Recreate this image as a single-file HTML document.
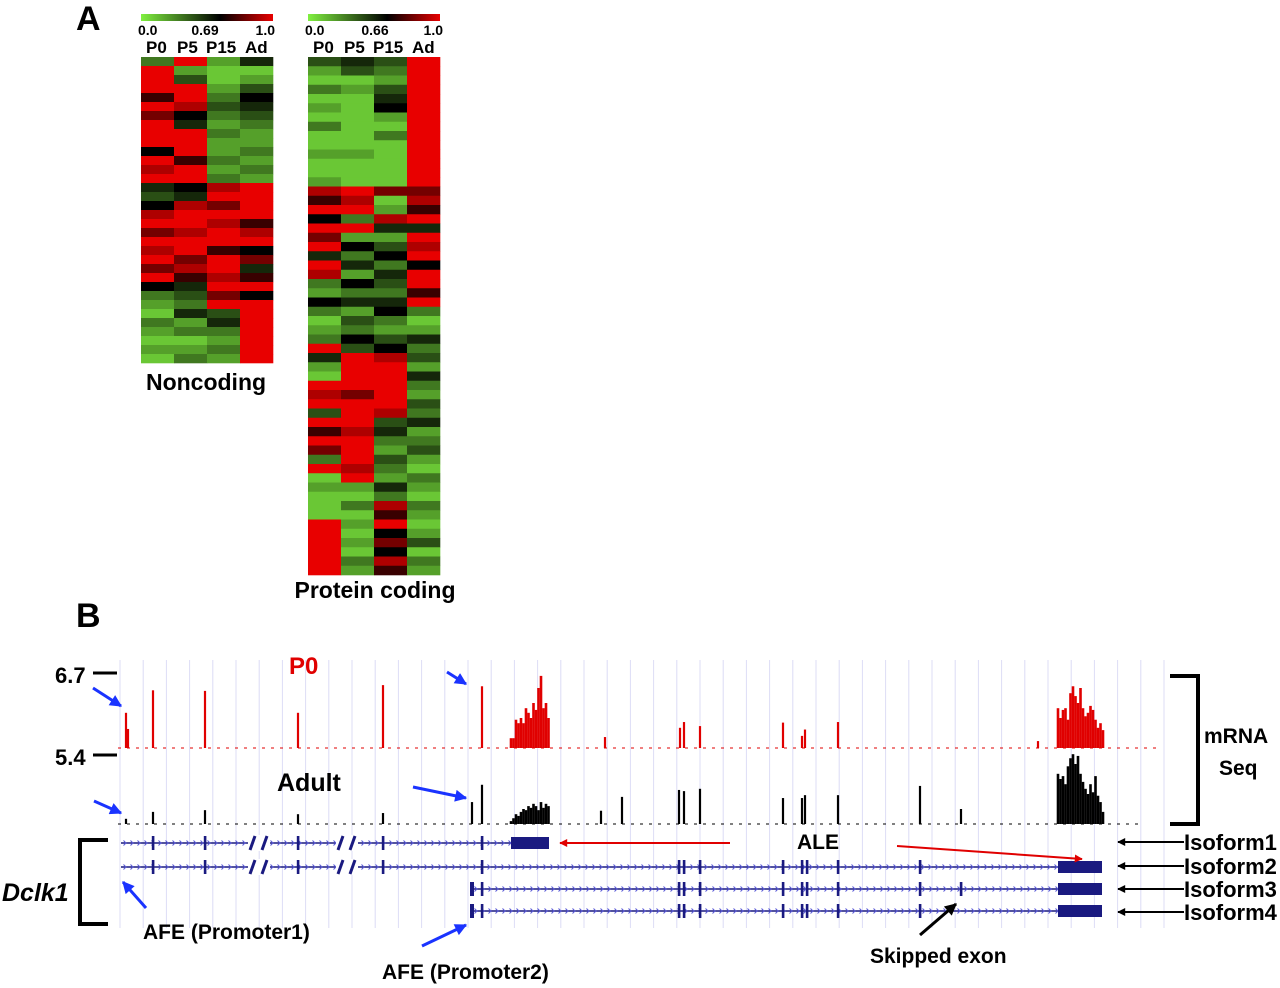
<!DOCTYPE html>
<html><head><meta charset="utf-8"><style>
html,body{margin:0;padding:0;background:#fff;}
svg{display:block;font-family:"Liberation Sans",Arial,sans-serif;font-weight:bold;}
</style></head><body>
<svg id="fig" width="1280" height="988" viewBox="0 0 1280 988" xmlns="http://www.w3.org/2000/svg">
<defs>
<linearGradient id="cg" x1="0" x2="1" y1="0" y2="0"><stop offset="0" stop-color="#80f040"/><stop offset="0.6" stop-color="#000"/><stop offset="1" stop-color="#e80000"/></linearGradient>
<marker id="ab" viewBox="0 0 10 10" refX="9" refY="5" markerWidth="5" markerHeight="4" orient="auto"><path d="M0,0L10,5L0,10z" fill="#1a33ff"/></marker>
<marker id="ar" viewBox="0 0 10 10" refX="9" refY="5" markerWidth="6" markerHeight="4" orient="auto"><path d="M0,0L10,5L0,10z" fill="#e00000"/></marker>
<marker id="ak" viewBox="0 0 10 10" refX="9" refY="5" markerWidth="6" markerHeight="4" orient="auto"><path d="M0,0L10,5L0,10z" fill="#000"/></marker>
</defs>
<text x="76" y="30" font-size="34">A</text>
<text x="76" y="627" font-size="34">B</text>
<g>
<rect x="141" y="14" width="132" height="7" fill="url(#cg)"/>
<text x="138" y="35" font-size="14">0.0</text><text x="205" y="35" font-size="14" text-anchor="middle">0.69</text><text x="275" y="35" font-size="14" text-anchor="end">1.0</text>
<text x="146" y="53" font-size="17">P0</text><text x="177" y="53" font-size="17">P5</text><text x="206" y="53" font-size="17">P15</text><text x="245" y="53" font-size="17">Ad</text>
</g>
<g>
<rect x="308" y="14" width="132" height="7" fill="url(#cg)"/>
<text x="305" y="35" font-size="14">0.0</text><text x="375" y="35" font-size="14" text-anchor="middle">0.66</text><text x="443" y="35" font-size="14" text-anchor="end">1.0</text>
<text x="313" y="53" font-size="17">P0</text><text x="344" y="53" font-size="17">P5</text><text x="373" y="53" font-size="17">P15</text><text x="412" y="53" font-size="17">Ad</text>
</g>
<g id="hm1"></g>
<g id="hm2"></g>
<text x="206" y="390" font-size="23" text-anchor="middle">Noncoding</text>
<text x="375" y="598" font-size="23" text-anchor="middle">Protein coding</text>

<g id="grid"></g>
<g>
<text x="55" y="683" font-size="22">6.7</text><line x1="93" y1="673" x2="117" y2="673" stroke="#000" stroke-width="3"/>
<text x="55" y="765" font-size="22">5.4</text><line x1="93" y1="755" x2="117" y2="755" stroke="#000" stroke-width="3"/>
</g>
<text x="289" y="674" font-size="24" fill="#e00000">P0</text>
<text x="277" y="791" font-size="25">Adult</text>
<g id="p0track"></g>
<g id="adtrack"></g>
<g id="genes"></g>
<path d="M1170,676H1198V824H1170" fill="none" stroke="#000" stroke-width="4"/>
<text x="1204" y="743" font-size="21">mRNA</text>
<text x="1219" y="775" font-size="21">Seq</text>
<path d="M108,840H80V924H108" fill="none" stroke="#000" stroke-width="4"/>
<text x="2" y="901" font-size="25" font-style="italic">Dclk1</text>
<text x="797" y="849" font-size="21">ALE</text>
<line x1="730" y1="843" x2="560" y2="843" stroke="#e00000" stroke-width="2" marker-end="url(#ar)"/>
<line x1="897" y1="846" x2="1082" y2="859" stroke="#e00000" stroke-width="2" marker-end="url(#ar)"/>
<g font-size="22">
<text x="1184" y="850">Isoform1</text><text x="1184" y="874">Isoform2</text><text x="1184" y="897">Isoform3</text><text x="1184" y="920">Isoform4</text>
<line x1="1184" y1="842" x2="1118" y2="842" stroke="#000" stroke-width="2" marker-end="url(#ak)"/>
<line x1="1184" y1="866" x2="1118" y2="866" stroke="#000" stroke-width="2" marker-end="url(#ak)"/>
<line x1="1184" y1="889" x2="1118" y2="889" stroke="#000" stroke-width="2" marker-end="url(#ak)"/>
<line x1="1184" y1="912" x2="1118" y2="912" stroke="#000" stroke-width="2" marker-end="url(#ak)"/>
</g>
<text x="143" y="939" font-size="21">AFE (Promoter1)</text>
<text x="382" y="979" font-size="21">AFE (Promoter2)</text>
<text x="870" y="963" font-size="21">Skipped exon</text>
<line x1="920" y1="935" x2="956" y2="904" stroke="#000" stroke-width="3" marker-end="url(#ak)"/>
<g stroke="#1a33ff" stroke-width="3">
<line x1="93" y1="688" x2="121" y2="706" marker-end="url(#ab)"/>
<line x1="94" y1="801" x2="121" y2="813" marker-end="url(#ab)"/>
<line x1="447" y1="672" x2="466" y2="684" marker-end="url(#ab)"/>
<line x1="413" y1="787" x2="466" y2="798" marker-end="url(#ab)"/>
<line x1="146" y1="908" x2="123" y2="882" marker-end="url(#ab)"/>
<line x1="422" y1="946" x2="466" y2="925" marker-end="url(#ab)"/>
</g>
</svg>
<script>
// ---- Heatmap data (normalized expression 0..1) ----
const stages = ["P0","P5","P15","Ad"];
const hmNoncodingP0 = [0.3,1,1,1,0.7,1,0.8,1,1,1,0.6,1,0.9,1,0.5,0.4,0.6,0.9,1,0.8,1,0.9,1,0.8,1,0.6,0.3,0.2,0.1,0.3,0.2,0.1,0.2,0.1];
const hmNoncodingP5 = [1,0.2,0.4,1,1,0.9,0.6,0.5,1,1,1,0.7,1,1,0.6,0.5,0.9,1,1,0.9,1,1,0.8,0.9,0.7,0.5,0.4,0.3,0.5,0.2,0.3,0.1,0.2,0.3];
const hmNoncodingP15 = [0.2,0.1,0.1,0.2,0.3,0.4,0.3,0.2,0.3,0.2,0.2,0.3,0.2,0.3,0.9,1,0.8,1,0.9,1,1,0.7,1,1,0.9,1,0.8,1,0.4,0.5,0.3,0.2,0.3,0.2];
const hmNoncodingAd = [0.5,0.1,0.2,0.4,0.6,0.5,0.4,0.3,0.2,0.2,0.3,0.2,0.3,0.2,1,1,1,1,0.7,0.9,1,0.6,0.8,0.5,0.7,1,0.6,1,1,1,1,1,1,1];
const hmCodingP0 = [0.4,0.2,0.1,0.3,0.1,0.2,0.1,0.3,0.1,0.1,0.2,0.1,0.1,0.2,0.9,0.7,1,0.6,1,0.8,1,0.5,1,0.9,0.3,0.2,0.6,0.3,0.1,0.2,0.3,1,0.5,0.2,0.1,1,0.9,1,0.4,1,0.7,1,0.8,0.3,1,0.1,0.2,0.1,0.1,0.1,1,1,1,1,1,1];
const hmCodingP5 = [0.5,0.4,0.1,0.2,0.1,0.1,0.1,0.1,0.1,0.1,0.2,0.1,0.1,0.1,1,0.9,1,0.3,1,0.2,0.6,0.3,0.5,0.2,0.6,0.3,0.5,0.2,0.4,0.3,0.6,0.4,1,1,1,1,0.8,1,1,1,0.9,1,1,1,0.9,1,0.2,0.1,0.3,0.1,0.2,0.1,0.2,0.1,0.3,0.2];
const hmCodingP15 = [0.4,0.3,0.2,0.4,0.5,0.6,0.2,0.1,0.3,0.1,0.1,0.1,0.1,0.1,0.8,0.1,0.2,0.9,0.5,0.2,0.4,0.6,0.3,0.5,0.4,0.3,0.5,0.6,0.3,0.2,0.4,0.6,0.9,1,1,1,1,1,0.9,0.4,0.5,0.3,0.2,0.4,0.3,0.2,0.5,0.3,0.9,0.7,1,0.6,0.8,0.6,0.9,0.7];
const hmCodingAd = [1,1,1,1,1,1,1,1,1,1,1,1,1,1,0.8,0.9,0.7,1,0.5,1,0.9,1,0.6,1,1,0.7,1,0.3,0.1,0.2,0.5,0.3,0.4,0.2,0.5,0.3,0.2,0.4,0.3,0.5,0.2,0.3,0.4,0.2,0.1,0.3,0.2,0.1,0.3,0.2,0.1,0.2,0.4,0.1,0.3,0.2];

// ---- Track data (genomic position in kb; signal in log units) ----
const p0Pos = [8,10,35,87,180,265,364,487,562,566,582,665,684,687,720,920];
const p0Val = [6.01,5.73,6.40,6.39,6.01,6.49,6.47,5.59,5.75,5.85,5.78,5.84,5.61,5.72,5.85,5.52];
const p0ClusterAPos = [393,395.5,398,400.5,403,405.5,408,410.5,413,415.5,418,420.5,423,425.5,428,430.5];
const p0ClusterAVal = [5.57,5.57,5.89,5.83,5.92,5.83,6.09,6.01,5.92,6.18,6.06,6.44,6.65,6.09,6.18,5.92];
const p0ClusterBPos = [940,942.5,945,947.5,950,952.5,955,957.5,960,962.5,965,967.5,970,972.5,975,977.5,980,982.5,985];
const p0ClusterBVal = [6.09,5.92,6.06,6.09,5.89,6.35,6.47,6.30,6.18,6.44,6.09,5.95,6.01,6.13,6.06,5.89,5.75,5.83,5.71];
const adPos = [8,35,87,180,265,354,364,483,504,561,566,582,665,684,687,720,802,843];
const adVal = [5.49,5.61,5.64,5.57,5.59,5.78,6.08,5.63,5.87,5.99,5.97,6.01,5.85,5.85,5.90,5.90,6.06,5.66];
const adClusterAPos = [393,395.5,398,400.5,403,405.5,408,410.5,413,415.5,418,420.5,423,425.5,428,430.5];
const adClusterAVal = [5.45,5.50,5.57,5.54,5.61,5.66,5.64,5.71,5.68,5.75,5.71,5.64,5.78,5.68,5.75,5.71];
const adClusterBPos = p0ClusterBPos;
const adClusterBVal = [6.27,6.18,6.23,6.09,6.40,6.54,6.61,6.44,6.58,6.27,6.13,6.01,5.92,6.09,5.95,6.23,5.89,5.78,5.61];

// ---- Gene model (kb) ----
const iso1Range = [3,431], iso1Exons = [35,87,180,265,364], iso1Utr = [393,431];
const iso2Range = [3,984], iso2Exons = [35,87,180,265,364,561,566,582,665,684,689,720,802], iso2Utr = [940,984];
const iso3Range = [354,984], iso3Exons = [354,364,561,566,582,665,684,689,720,802,843], iso3Utr = [940,984];
const iso4Range = [354,984], iso4Exons = [354,364,561,566,582,665,684,689,720,802], iso4Utr = [940,984];
const breakPos = [140,228];

const NS="http://www.w3.org/2000/svg";
function mk(tag,attrs,parent){const e=document.createElementNS(NS,tag);for(const k in attrs)e.setAttribute(k,attrs[k]);parent.appendChild(e);return e;}
function color(v){
  const mid=0.6;let r,g,b;
  if(v<mid){const t=v/mid;r=128*(1-t);g=240*(1-t);b=64*(1-t);}else{const t=(v-mid)/(1-mid);r=232*t;g=0;b=0;}
  return `rgb(${r|0},${g|0},${b|0})`;
}
function drawHeatmap(gid,cols,x0,y0,w,h){
  const g=document.getElementById(gid);const cw=w/cols.length;
  cols.forEach((col,ci)=>{const rh=h/col.length;col.forEach((v,ri)=>{
    const r=mk('rect',{x:x0+ci*cw,y:y0+ri*rh,width:cw+0.3,height:rh+0.3,fill:color(v)},g);
    
    
  });});
}
drawHeatmap('hm1',[hmNoncodingP0,hmNoncodingP5,hmNoncodingP15,hmNoncodingAd],141,57,132,306);
drawHeatmap('hm2',[hmCodingP0,hmCodingP5,hmCodingP15,hmCodingAd],308,57,132,518);

const xS=kb=>118+kb;
const yS=(v,base)=>base-(v-5.4)/1.3*75;
const gg=document.getElementById('grid');
for(let x=120;x<=1165;x+=23.2){const l=mk('line',{x1:x,y1:660,x2:x,y2:928,stroke:'#dcdcf6','stroke-width':1},gg);
 
 }
function bars(gid,pos,val,base,col,w){
  const g=document.getElementById(gid);
  pos.forEach((p,i)=>{const y=yS(val[i],base);const r=mk('rect',{x:xS(p)-w/2,y:y,width:w,height:base-y,fill:col},g);
    
    });
}
mk('line',{x1:118,y1:748,x2:1160,y2:748,stroke:'#e00000','stroke-width':1,'stroke-dasharray':'3 6'},document.getElementById('p0track'));
mk('line',{x1:118,y1:824,x2:1140,y2:824,stroke:'#000','stroke-width':1,'stroke-dasharray':'3 6'},document.getElementById('adtrack'));
bars('p0track',p0Pos,p0Val,748,'#e00000',2.2);
bars('p0track',p0ClusterAPos,p0ClusterAVal,748,'#e00000',2.6);
bars('p0track',p0ClusterBPos,p0ClusterBVal,748,'#e00000',2.6);
bars('adtrack',adPos,adVal,824,'#000',2.2);
bars('adtrack',adClusterAPos,adClusterAVal,824,'#000',2.6);
bars('adtrack',adClusterBPos,adClusterBVal,824,'#000',2.6);

const ge=document.getElementById('genes');const navy='#1a1a80';
function isoform(name,y,range,exons,utr,withBreaks,thickStart){
  const g=mk('g',{},ge);
  
  
  mk('line',{x1:xS(range[0]),y1:y,x2:xS(range[1]),y2:y,stroke:navy,'stroke-width':1.5},g);
  for(let k=range[0]+4;k<range[1]-4;k+=7){mk('path',{d:`M${xS(k)-1.5},${y-2.5}L${xS(k)+1},${y}L${xS(k)-1.5},${y+2.5}`,stroke:'#5a5ad8',fill:'none','stroke-width':1},g);}
  exons.forEach(e=>mk('rect',{x:xS(e)-1.2,y:y-7,width:2.6,height:14,fill:navy},g));
  if(thickStart) mk('rect',{x:xS(range[0])-2,y:y-7,width:4,height:14,fill:navy},g);
  mk('rect',{x:xS(utr[0]),y:y-6,width:xS(utr[1])-xS(utr[0]),height:12,fill:navy},g);
  if(withBreaks) breakPos.forEach(b=>{mk('rect',{x:xS(b)-10,y:y-8,width:22,height:16,fill:'#fff'},g);
    mk('line',{x1:xS(b)-8,y1:y+7,x2:xS(b)-3,y2:y-7,stroke:navy,'stroke-width':3},g);
    mk('line',{x1:xS(b)+4,y1:y+7,x2:xS(b)+9,y2:y-7,stroke:navy,'stroke-width':3},g);});
}
isoform('isoform1-model',843,iso1Range,iso1Exons,iso1Utr,true,false);
isoform('isoform2-model',867,iso2Range,iso2Exons,iso2Utr,true,false);
isoform('isoform3-model',889,iso3Range,iso3Exons,iso3Utr,false,true);
isoform('isoform4-model',911,iso4Range,iso4Exons,iso4Utr,false,true);
</script>
</body></html>
